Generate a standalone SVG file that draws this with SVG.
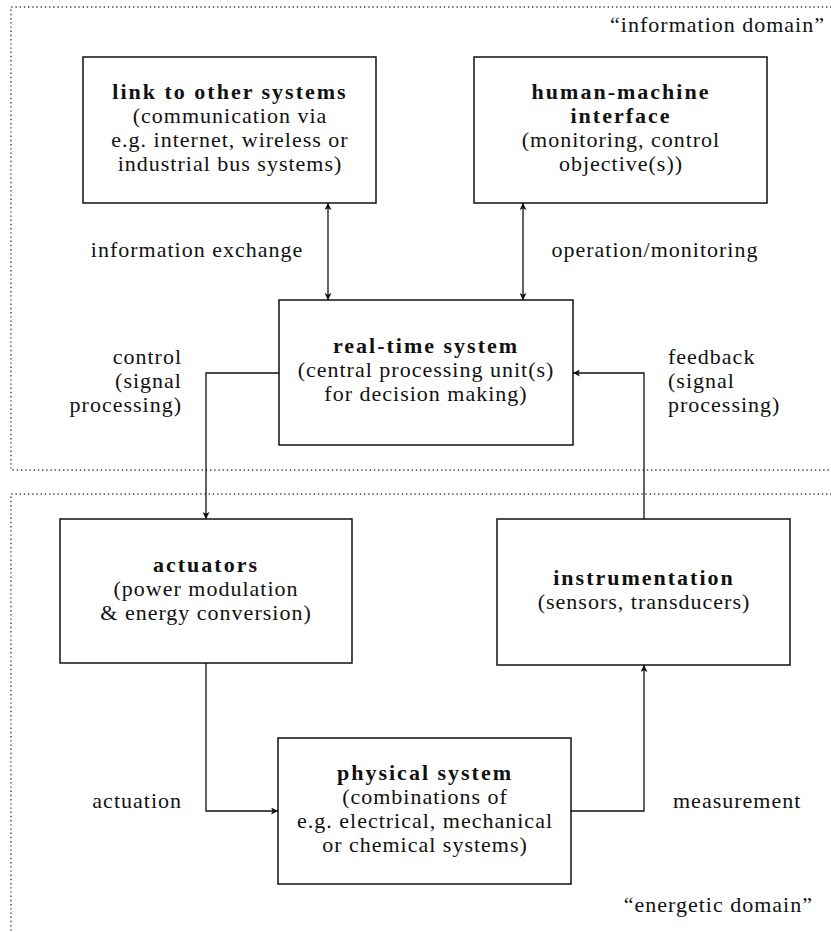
<svg xmlns="http://www.w3.org/2000/svg" width="831" height="932" viewBox="0 0 831 932">
<style>
text{font-family:"Liberation Serif","Times New Roman",serif;font-size:22px;fill:#111;letter-spacing:1px}
.b{font-weight:bold;letter-spacing:2px}
.c{text-anchor:middle}
.e{text-anchor:end}
.box{fill:none;stroke:#111;stroke-width:1.5}
.con{fill:none;stroke:#111;stroke-width:1.3}
.dom{fill:none;stroke:#444;stroke-width:1.4;stroke-dasharray:1.4 2.8}
</style>
<defs>
<marker id="ah" viewBox="0 0 10 10" refX="10" refY="5" markerWidth="7" markerHeight="7" markerUnits="userSpaceOnUse" orient="auto-start-reverse">
<path d="M0,0 L10,5 L0,10 L2.5,5 Z" fill="#111"/>
</marker>
</defs>
<g id="domains">
<path class="dom" d="M840 7 H11 V470 H840"/>
<path class="dom" d="M840 494 H11 V940"/>
<text class="e" x="825" y="32">“information domain”</text>
<text class="e" x="813" y="912">“energetic domain”</text>
</g>
<g id="link">
<rect class="box" x="83" y="57" width="293" height="146"/>
<text class="c b" x="230" y="99">link to other systems</text>
<text class="c" x="230" y="123">(communication via</text>
<text class="c" x="230" y="147">e.g. internet, wireless or</text>
<text class="c" x="230" y="171">industrial bus systems)</text>
</g>
<g id="hmi">
<rect class="box" x="474" y="57" width="293" height="146"/>
<text class="c b" x="621" y="99">human-machine</text>
<text class="c b" x="621" y="123">interface</text>
<text class="c" x="621" y="147">(monitoring, control</text>
<text class="c" x="621" y="171">objective(s))</text>
</g>
<g id="rts">
<rect class="box" x="279" y="300" width="294" height="145"/>
<text class="c b" x="426" y="353">real-time system</text>
<text class="c" x="426" y="377">(central processing unit(s)</text>
<text class="c" x="426" y="401">for decision making)</text>
</g>
<g id="actuators">
<rect class="box" x="60" y="519" width="292" height="144"/>
<text class="c b" x="206" y="572">actuators</text>
<text class="c" x="206" y="596">(power modulation</text>
<text class="c" x="206" y="620">&amp; energy conversion)</text>
</g>
<g id="instrumentation">
<rect class="box" x="497" y="519" width="293" height="146"/>
<text class="c b" x="644" y="585">instrumentation</text>
<text class="c" x="644" y="609">(sensors, transducers)</text>
</g>
<g id="physical">
<rect class="box" x="278" y="738" width="293" height="146"/>
<text class="c b" x="425" y="780">physical system</text>
<text class="c" x="425" y="804">(combinations of</text>
<text class="c" x="425" y="828">e.g. electrical, mechanical</text>
<text class="c" x="425" y="852">or chemical systems)</text>
</g>
<g id="connectors">
<path class="con" d="M328 203 V300" marker-start="url(#ah)" marker-end="url(#ah)"/>
<path class="con" d="M523 203 V300" marker-start="url(#ah)" marker-end="url(#ah)"/>
<path class="con" d="M279 373 H206 V519" marker-end="url(#ah)"/>
<path class="con" d="M644 519 V373 H573" marker-end="url(#ah)"/>
<path class="con" d="M206 663 V811 H278" marker-end="url(#ah)"/>
<path class="con" d="M571 811 H644 V665" marker-end="url(#ah)"/>
</g>
<g id="labels">
<text class="c" x="197" y="257">information exchange</text>
<text class="c" x="655" y="257">operation/monitoring</text>
<text class="e" x="182" y="364">control</text>
<text class="e" x="182" y="388">(signal</text>
<text class="e" x="182" y="412">processing)</text>
<text x="668" y="364">feedback</text>
<text x="668" y="388">(signal</text>
<text x="668" y="412">processing)</text>
<text class="e" x="182" y="808">actuation</text>
<text x="673" y="808">measurement</text>
</g>
</svg>
